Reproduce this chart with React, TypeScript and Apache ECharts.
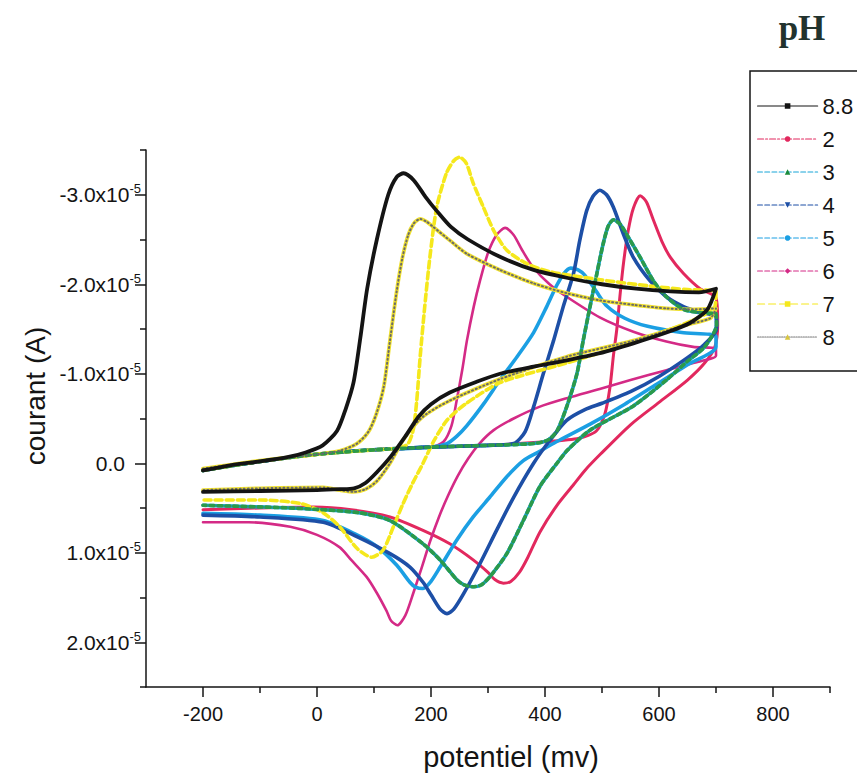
import React, { useEffect, useRef } from "react";
import * as echarts from "echarts";

// potential (mV), current (units of 1e-5 A; negative = drawn upward)
const ph88: [number, number][] = [
  [-200, 0.08], [-150, 0.02], [-100, -0.02], [-50, -0.07], [-20, -0.12], [10, -0.2], [35, -0.36], [50, -0.6],
  [64, -0.9], [76, -1.4], [88, -1.95], [105, -2.5], [125, -3.0], [140, -3.2], [152, -3.24], [170, -3.16],
  [190, -2.98], [210, -2.82], [235, -2.64], [265, -2.5], [320, -2.31], [380, -2.16], [440, -2.07], [500, -2.0],
  [560, -1.95], [620, -1.92], [670, -1.91], [700, -1.95], [685, -1.72], [655, -1.57], [613, -1.46], [555, -1.34],
  [496, -1.23], [438, -1.15], [380, -1.08], [321, -1.0], [280, -0.91], [233, -0.79], [200, -0.66], [178, -0.52],
  [155, -0.3], [130, -0.08], [105, 0.1], [85, 0.22], [65, 0.28], [40, 0.29], [0, 0.3], [-100, 0.31], [-200, 0.32],
];
const ph2: [number, number][] = [
  [-200, 0.08], [-100, -0.02], [0, -0.1], [100, -0.15], [200, -0.18], [300, -0.2], [400, -0.24], [460, -0.28],
  [490, -0.36], [505, -0.55], [514, -0.85], [520, -1.2], [526, -1.5], [532, -1.9], [538, -2.25], [546, -2.6],
  [555, -2.85], [567, -2.99], [578, -2.92], [590, -2.72], [605, -2.48], [620, -2.3], [643, -2.12], [672, -1.95],
  [700, -1.85], [703, -1.55], [698, -1.3], [680, -1.12], [650, -0.93], [600, -0.68], [550, -0.43], [497, -0.1],
  [470, 0.08], [450, 0.24], [421, 0.47], [391, 0.77], [370, 1.05], [355, 1.22], [340, 1.32], [327, 1.34],
  [312, 1.3], [300, 1.22], [274, 1.08], [233, 0.9], [186, 0.75], [128, 0.6], [60, 0.52], [-6, 0.49],
  [-100, 0.5], [-200, 0.52],
];
const ph3: [number, number][] = [
  [-200, 0.08], [-100, -0.02], [0, -0.1], [100, -0.15], [200, -0.18], [300, -0.2], [380, -0.22], [405, -0.26],
  [421, -0.36], [438, -0.63], [456, -1.0], [467, -1.37], [479, -1.75], [491, -2.12], [502, -2.45], [511, -2.65],
  [520, -2.72], [532, -2.67], [543, -2.56], [567, -2.3], [590, -2.04], [613, -1.86], [643, -1.72], [675, -1.68],
  [700, -1.67], [701, -1.55], [680, -1.3], [650, -1.14], [613, -0.93], [555, -0.64], [479, -0.37], [440, -0.15],
  [421, 0.0], [391, 0.26], [362, 0.64], [333, 1.01], [303, 1.27], [288, 1.36], [274, 1.38], [258, 1.36],
  [245, 1.3], [216, 1.08], [186, 0.9], [128, 0.64], [70, 0.55], [-47, 0.5], [-200, 0.47],
];
const ph4: [number, number][] = [
  [-200, 0.08], [-100, -0.02], [0, -0.1], [100, -0.15], [200, -0.18], [300, -0.2], [345, -0.22], [365, -0.35],
  [380, -0.63], [397, -1.0], [415, -1.37], [432, -1.75], [450, -2.12], [461, -2.49], [473, -2.82], [484, -2.98],
  [496, -3.05], [508, -3.0], [520, -2.86], [537, -2.57], [555, -2.3], [584, -2.04], [613, -1.86], [643, -1.75],
  [675, -1.68], [700, -1.64], [701, -1.5], [680, -1.33], [650, -1.18], [600, -0.97], [550, -0.8], [500, -0.67],
  [470, -0.6], [438, -0.48], [409, -0.26], [380, 0.0], [345, 0.38], [315, 0.75], [286, 1.12], [257, 1.46],
  [240, 1.63], [228, 1.68], [216, 1.63], [200, 1.47], [186, 1.33], [163, 1.16], [128, 1.01], [70, 0.82],
  [11, 0.66], [-100, 0.6], [-200, 0.58],
];
const ph5: [number, number][] = [
  [-200, 0.08], [-100, -0.02], [0, -0.1], [100, -0.15], [200, -0.18], [228, -0.22], [245, -0.3], [263, -0.42],
  [292, -0.66], [321, -0.93], [351, -1.19], [380, -1.46], [403, -1.75], [420, -1.98], [433, -2.12], [445, -2.18],
  [458, -2.16], [470, -2.1], [490, -1.92], [508, -1.76], [540, -1.62], [580, -1.53], [640, -1.46], [700, -1.42],
  [700, -1.3], [650, -1.1], [600, -0.9], [540, -0.66], [480, -0.44], [420, -0.24], [390, -0.13], [362, -0.03],
  [333, 0.15], [303, 0.38], [274, 0.6], [245, 0.86], [216, 1.16], [200, 1.32], [186, 1.4], [172, 1.38],
  [163, 1.33], [140, 1.14], [105, 0.93], [70, 0.8], [11, 0.64], [-100, 0.58], [-200, 0.56],
];
const ph6: [number, number][] = [
  [-200, 0.08], [-100, -0.02], [0, -0.1], [100, -0.15], [200, -0.18], [222, -0.24], [236, -0.42], [245, -0.7],
  [255, -1.05], [263, -1.37], [275, -1.75], [286, -2.04], [300, -2.35], [315, -2.55], [330, -2.63], [345, -2.55],
  [360, -2.38], [379, -2.19], [408, -2.0], [438, -1.86], [496, -1.63], [555, -1.47], [613, -1.36], [660, -1.3],
  [700, -1.28], [700, -1.2], [660, -1.12], [613, -1.04], [550, -0.93], [496, -0.83], [440, -0.73], [390, -0.63],
  [345, -0.5], [310, -0.37], [285, -0.22], [265, -0.05], [247, 0.14], [230, 0.36], [214, 0.6], [198, 0.88],
  [183, 1.18], [169, 1.45], [155, 1.7], [141, 1.81], [130, 1.76], [122, 1.65], [105, 1.45], [87, 1.27],
  [60, 1.08], [40, 0.94], [0, 0.8], [-47, 0.71], [-120, 0.66], [-200, 0.66],
];
const ph7: [number, number][] = [
  [-200, 0.08], [-100, -0.02], [0, -0.1], [100, -0.15], [145, -0.17], [160, -0.22], [169, -0.38], [175, -0.7],
  [181, -1.19], [189, -1.75], [198, -2.3], [210, -2.86], [227, -3.24], [240, -3.38], [250, -3.42], [262, -3.35],
  [274, -3.13], [292, -2.86], [310, -2.6], [333, -2.38], [368, -2.23], [409, -2.14], [497, -2.05], [584, -1.98],
  [650, -1.94], [700, -1.92], [698, -1.75], [660, -1.6], [600, -1.45], [555, -1.35], [438, -1.12], [321, -0.9],
  [260, -0.66], [228, -0.48], [205, -0.25], [186, 0.0], [168, 0.22], [151, 0.45], [134, 0.71], [116, 0.97],
  [96, 1.05], [70, 0.95], [40, 0.71], [10, 0.55], [-29, 0.45], [-100, 0.41], [-200, 0.41],
];
const ph8: [number, number][] = [
  [-200, 0.06], [-100, -0.03], [0, -0.1], [40, -0.14], [70, -0.22], [90, -0.35], [104, -0.55], [117, -0.85],
  [128, -1.37], [140, -1.93], [150, -2.3], [160, -2.55], [170, -2.68], [181, -2.73], [192, -2.7], [204, -2.64],
  [233, -2.49], [263, -2.34], [321, -2.16], [380, -2.01], [438, -1.9], [496, -1.82], [555, -1.77], [613, -1.73],
  [660, -1.72], [700, -1.73], [690, -1.62], [643, -1.54], [555, -1.37], [438, -1.19], [321, -0.94], [233, -0.7],
  [192, -0.55], [170, -0.42], [150, -0.25], [128, 0.0], [105, 0.2], [85, 0.29], [64, 0.32], [40, 0.3],
  [11, 0.27], [-100, 0.28], [-200, 0.3],
];

const LEGEND_NAMES = ["8.8", "2", "3", "4", "5", "6", "7", "8"];
const X_MAJOR = [-200, 0, 200, 400, 600, 800];
const X_MINOR = [-100, 100, 300, 500, 700, 900];
const Y_MAJOR = [-3, -2, -1, 0, 1, 2];
const Y_MINOR = [-3.5, -2.5, -1.5, -0.5, 0.5, 1.5, 2.5];

const FONT = '"Liberation Sans", Arial, Helvetica, sans-serif';
const INK = "#141414";

function curve(name: string, data: [number, number][], color: string, width: number, type: any, symbol: string, z = 2) {
  return {
    type: "line",
    name,
    data,
    smooth: 0.25,
    showSymbol: false,
    symbol,
    symbolSize: 5,
    z,
    silent: true,
    lineStyle: { color, width, type, cap: "round", join: "round" },
    itemStyle: { color },
    emphasis: { disabled: true },
  };
}

export default function App() {
  const ref = useRef<HTMLDivElement>(null);
  useEffect(() => {
    document.body.style.margin = "0";
    if (!ref.current) return;
    const chart = echarts.init(ref.current, undefined, { renderer: "svg" });
    const tickLabelY = (v: number) => {
      if (Math.abs(v) < 1e-9) return "{m|0.0}{p|}";
      return "{m|" + v.toFixed(1) + "x10}{s|-5}";
    };
    chart.setOption({
      animation: false,
      backgroundColor: "#ffffff",
      grid: { left: 146, top: 150, width: 684, height: 537 },
      xAxis: [
        {
          type: "value",
          min: -300,
          max: 900,
          position: "bottom",
          axisLine: { show: true, onZero: false, lineStyle: { color: INK, width: 1.5 } },
          axisTick: { show: true, customValues: X_MAJOR, length: 10, lineStyle: { color: INK, width: 1.5 } },
          axisLabel: { customValues: X_MAJOR, fontSize: 20, fontFamily: FONT, color: INK, margin: 17 },
          splitLine: { show: false },
        },
        {
          type: "value",
          min: -300,
          max: 900,
          position: "bottom",
          axisLine: { show: false, onZero: false },
          axisTick: { show: true, customValues: X_MINOR, length: 6, lineStyle: { color: INK, width: 1.5 } },
          axisLabel: { show: false },
          splitLine: { show: false },
        },
      ],
      yAxis: [
        {
          type: "value",
          inverse: true,
          min: -3.5,
          max: 2.5,
          position: "left",
          axisLine: { show: true, onZero: false, lineStyle: { color: INK, width: 1.5 } },
          axisTick: { show: true, customValues: Y_MAJOR, length: 11, lineStyle: { color: INK, width: 1.5 } },
          axisLabel: {
            customValues: Y_MAJOR,
            margin: 5,
            formatter: tickLabelY,
            rich: {
              m: { fontSize: 21, fontFamily: FONT, color: INK },
              s: { fontSize: 13, fontFamily: FONT, color: INK, verticalAlign: "bottom", padding: [0, 0, 12, 0] },
              p: { width: 16 },
            },
          },
          splitLine: { show: false },
        },
        {
          type: "value",
          inverse: true,
          min: -3.5,
          max: 2.5,
          position: "left",
          axisLine: { show: false, onZero: false },
          axisTick: { show: true, customValues: Y_MINOR, length: 6, lineStyle: { color: INK, width: 1.5 } },
          axisLabel: { show: false },
          splitLine: { show: false },
        },
      ],
      legend: {
        orient: "vertical",
        left: 752,
        top: 90,
        itemWidth: 60,
        itemHeight: 7,
        itemGap: 11,
        selectedMode: false,
        textStyle: { fontSize: 22, fontFamily: FONT, color: INK },
        lineStyle: { width: 1.2 },
        data: [
          { name: LEGEND_NAMES[0], itemStyle: { color: INK } },
          { name: LEGEND_NAMES[1], lineStyle: { type: [6, 2, 2, 2] } },
          { name: LEGEND_NAMES[2], lineStyle: { type: "dashed", color: "#18a6d8" }, itemStyle: { color: "#1a8a3a" } },
          { name: LEGEND_NAMES[3], lineStyle: { type: "dashed" }, symbolRotate: 180 },
          { name: LEGEND_NAMES[4], lineStyle: { type: "dashed" } },
          { name: LEGEND_NAMES[5], lineStyle: { type: "dashed" } },
          { name: LEGEND_NAMES[6] },
          { name: LEGEND_NAMES[7], lineStyle: { type: "dotted", color: "#777777" }, itemStyle: { color: "#d8c640" } },
        ],
      },
      series: [
        curve("2", ph2, "#e2285e", 3, "solid", "circle"),
        curve("6", ph6, "#d42a86", 2.6, "solid", "diamond"),
        curve("3", ph3, "#15a2d6", 3.6, "solid", "triangle"),
        curve("3g", ph3, "#2b9a4a", 3.6, [4, 4], "none", 3),
        curve("5", ph5, "#1b9fe3", 3.6, "solid", "circle"),
        curve("4", ph4, "#1d4fa6", 3.6, "solid", "triangle"),
        curve("7", ph7, "#f5e81c", 3.6, [7, 4], "rect"),
        curve("8", ph8, "#efe030", 3.8, "solid", "triangle"),
        curve("8g", ph8, "#6a6a6a", 2, [1, 3], "none", 3),
        curve("8.8", ph88, INK, 3.8, "solid", "rect", 4),
      ],
      graphic: [
        {
          type: "rect",
          shape: { x: 750, y: 71, width: 130, height: 300 },
          style: { fill: "none", stroke: INK, lineWidth: 1.5 },
          silent: true,
        },
        {
          type: "text",
          x: 802,
          y: 28,
          style: {
            text: "pH",
            font: 'bold 35px "Liberation Serif", "DejaVu Serif", serif',
            fill: "#22332e",
            textAlign: "center",
            textVerticalAlign: "middle",
          },
        },
        {
          type: "text",
          x: 35,
          y: 396,
          rotation: Math.PI / 2,
          style: {
            text: "courant (A)",
            font: '28px "Liberation Sans", Arial, sans-serif',
            fill: INK,
            textAlign: "center",
            textVerticalAlign: "middle",
          },
        },
        {
          type: "text",
          x: 511,
          y: 757,
          style: {
            text: "potentiel (mv)",
            font: '29px "Liberation Sans", Arial, sans-serif',
            fill: INK,
            textAlign: "center",
            textVerticalAlign: "middle",
          },
        },
      ],
    });
    return () => chart.dispose();
  }, []);
  return <div ref={ref} style={{ width: 857, height: 776 }} />;
}
